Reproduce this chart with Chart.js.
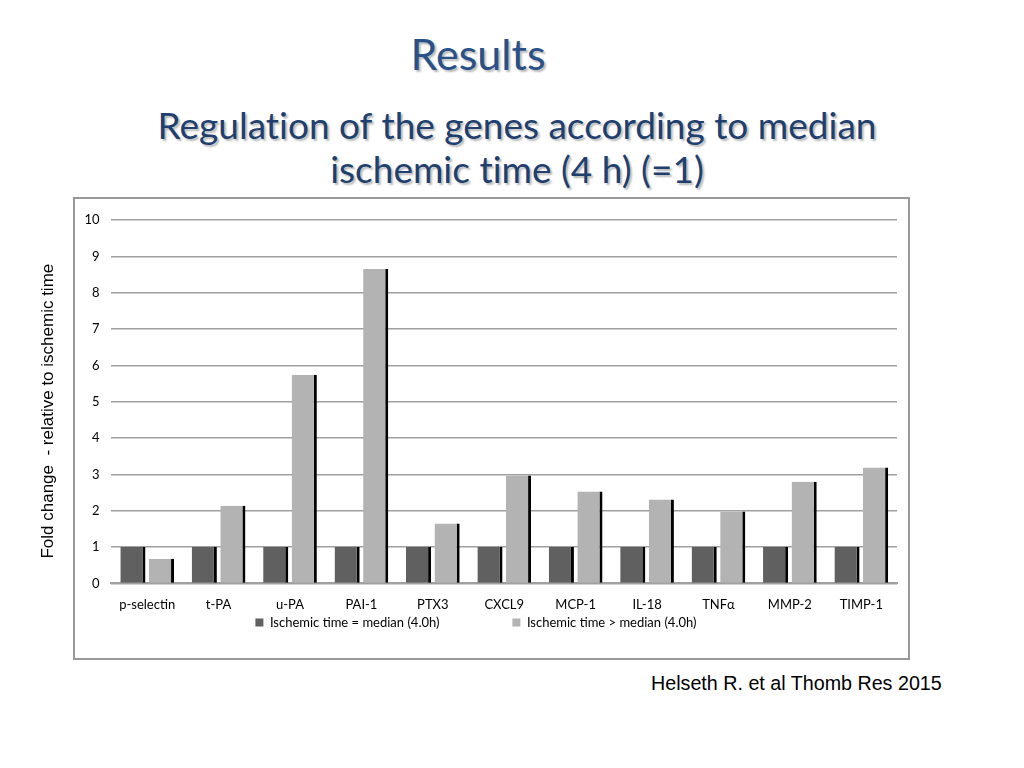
<!DOCTYPE html>
<html>
<head>
<meta charset="utf-8">
<script src="https://cdn.jsdelivr.net/npm/chart.js@4"></script>
<style>
  body { margin: 0; width: 1024px; height: 768px; background: #fff; position: relative; overflow: hidden; font-family: Lato, sans-serif; }
  .heading { position: absolute; left: 0; width: 1024px; text-align: center; color: #1f3f6e; text-shadow: 2px 2px 2px #b8b8b8; font-variant-ligatures: none; }
  #results { top: 28px; left: -34px; font-size: 43px; color: #2a5187; }
  #sub { top: 103px; left: 5px; font-size: 37px; line-height: 44px; }
  #frame { position: absolute; left: 73px; top: 197px; width: 833px; height: 459px; border: 2px solid #999; }
  #wrap { position: absolute; left: 30px; top: 197px; width: 880px; height: 463px; }
  #cite { position: absolute; left: 651px; top: 672px; font: 19.7px "Liberation Sans", Arial, sans-serif; color: #000; }
</style>
</head>
<body>
<div class="heading" id="results">Results</div>
<div class="heading" id="sub">Regulation of the genes according to median<br>ischemic time (4 h) (=1)</div>
<div id="frame"></div>
<div id="wrap"><canvas id="chart"></canvas></div>
<div id="cite">Helseth R. et al Thomb Res 2015</div>
<script>
// genes on the x axis
var genes = ['p-selectin', 't-PA', 'u-PA', 'PAI-1', 'PTX3', 'CXCL9', 'MCP-1', 'IL-18', 'TNF\u03b1', 'MMP-2', 'TIMP-1'];
// fold change, ischemic time = median (reference, =1)
var atMedian = [1, 1, 1, 1, 1, 1, 1, 1, 1, 1, 1];
// fold change, ischemic time > median
var aboveMedian = [0.68, 2.14, 5.74, 8.65, 1.65, 2.97, 2.53, 2.31, 1.98, 2.8, 3.19];
var seriesNames = ['Ischemic time = median (4.0h)', 'Ischemic time > median (4.0h)'];
var yTicks = [0, 1, 2, 3, 4, 5, 6, 7, 8, 9, 10];

var barStyle = {
  borderColor: '#000',
  borderWidth: { right: 3, top: 0, left: 0, bottom: 0 },
  borderSkipped: false,
  barPercentage: 0.88,
  categoryPercentage: 0.8
};

// spacing tweaks so the legend sits like the original slide
var legendGap = ['                     ', '                 '];

var ctx = document.getElementById('chart').getContext('2d');
new Chart(ctx, {
  type: 'bar',
  data: {
    labels: genes,
    datasets: [
      Object.assign({ label: seriesNames[0], data: atMedian, backgroundColor: '#606060' }, barStyle),
      Object.assign({ label: seriesNames[1], data: aboveMedian, backgroundColor: '#b3b3b3' }, barStyle)
    ]
  },
  options: {
    responsive: true,
    maintainAspectRatio: false,
    animation: false,
    layout: { padding: { left: 8, right: 13, top: 23, bottom: 21 } },
    plugins: {
      legend: {
        position: 'bottom',
        fullSize: false,
        labels: {
          boxWidth: 8,
          boxHeight: 8,
          padding: 3,
          color: '#000',
          font: { family: 'Lato', size: 13 },
          generateLabels: function(chart) {
            return chart.data.datasets.map(function(ds, i) {
              return { text: ds.label + legendGap[i], fillStyle: ds.backgroundColor, strokeStyle: ds.backgroundColor, lineWidth: 0, datasetIndex: i };
            });
          }
        }
      },
      tooltip: { enabled: false }
    },
    scales: {
      x: {
        grid: { display: false },
        border: { color: '#a0a0a0', width: 2 },
        ticks: { color: '#000', font: { family: 'Lato', size: 13 }, maxRotation: 0, padding: 6 },
        afterFit: function(scale) { scale.height -= 6; }
      },
      y: {
        min: 0,
        max: 10,
        afterBuildTicks: function(axis) { axis.ticks = yTicks.map(function(v) { return { value: v }; }); },
        grid: { color: '#a0a0a0', lineWidth: 1.5, drawTicks: false },
        border: { display: false },
        ticks: { color: '#000', font: { family: 'Lato', size: 13 }, padding: 12 },
        title: {
          display: true,
          text: 'Fold change  - relative to ischemic time    ',
          color: '#000',
          font: { family: 'Liberation Sans', size: 17 },
          padding: { top: 0, bottom: 14 }
        }
      }
    }
  }
});
</script>
</body>
</html>
